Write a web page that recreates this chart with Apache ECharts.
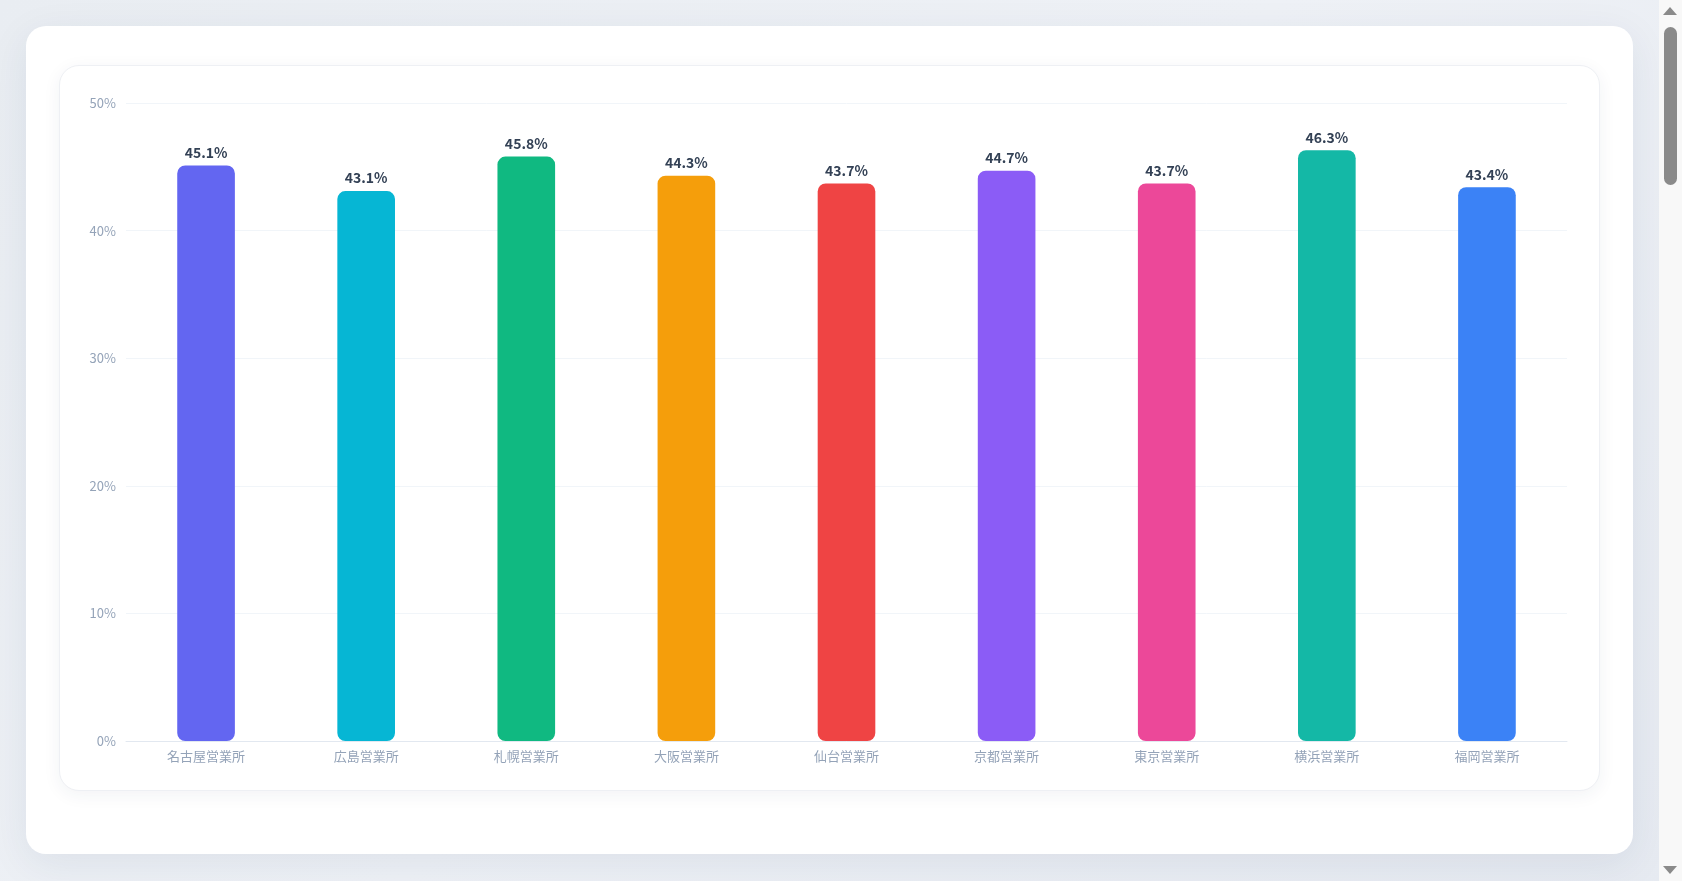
<!DOCTYPE html>
<html>
<head>
<meta charset="utf-8">
<script src="https://cdn.jsdelivr.net/npm/echarts@6/dist/echarts.min.js"></script>
<style>
  html, body { margin: 0; padding: 0; overflow: hidden; }
  body {
    width: 1682px; height: 881px;
    background: linear-gradient(135deg, #e9edf2 0%, #eef1f6 50%, #e6eaf1 100%);
    font-family: 'Noto Sans CJK JP', 'Noto Sans', sans-serif;
    position: relative;
  }
  .outer {
    position: absolute; left: 26px; top: 26px; width: 1607px; height: 828px;
    background: #ffffff; border-radius: 20px;
    box-shadow: 0 10px 40px rgba(30, 50, 90, 0.08);
  }
  .inner {
    position: absolute; left: 59px; top: 65px; width: 1541px; height: 726px;
    background: #ffffff; border-radius: 20px; border: 1px solid #eef0f4;
    box-sizing: border-box;
    box-shadow: 0 4px 18px rgba(30, 50, 90, 0.06);
  }
  #chart { position: absolute; left: -1px; top: -1px; width: 1541px; height: 726px; }
  /* page scrollbar as in the screenshot */
  .sb-track { position: absolute; left: 1659px; top: 0; width: 23px; height: 881px; background: #f8f8f8; }
  .sb-thumb { position: absolute; left: 1664px; top: 27px; width: 13px; height: 158px; background: #8a8a8a; border-radius: 7px; }
  .sb-up { position: absolute; left: 1663px; top: 7px; width: 0; height: 0;
    border-left: 7px solid transparent; border-right: 7px solid transparent; border-bottom: 8px solid #8a8a8a; }
  .sb-down { position: absolute; left: 1663px; top: 866px; width: 0; height: 0;
    border-left: 7px solid transparent; border-right: 7px solid transparent; border-top: 8px solid #8a8a8a; }
</style>
</head>
<body>
<div class="outer"></div>
<div class="inner"><div id="chart"></div></div>
<div class="sb-track"></div>
<div class="sb-up"></div>
<div class="sb-thumb"></div>
<div class="sb-down"></div>
<script>
var offices = ['名古屋営業所', '広島営業所', '札幌営業所', '大阪営業所', '仙台営業所', '京都営業所', '東京営業所', '横浜営業所', '福岡営業所'];
var rates = [45.1, 43.1, 45.8, 44.3, 43.7, 44.7, 43.7, 46.3, 43.4];
var colors = ['#6366f1', '#06b6d4', '#10b981', '#f59e0b', '#ef4444', '#8b5cf6', '#ec4899', '#14b8a6', '#3b82f6'];

var OfficeChart = {
	init : function() {
		var chart = echarts.init(document.getElementById('chart'));
		chart.setOption(OfficeChart.buildOption(), true);
	},
	buildOption : function() {
		var bars = [];
		for (var i = 0; i < rates.length; i++) {
			bars.push({
				value : rates[i],
				itemStyle : { color : colors[i] }
			});
		}
		return {
			animation : false,
			textStyle : { fontFamily : "'Noto Sans CJK JP', 'Noto Sans', sans-serif" },
			grid : { left : 67, right : 33, top : 38, bottom : 50 },
			xAxis : {
				type : 'category',
				data : offices,
				axisLine : { lineStyle : { color : '#e2e8f0' } },
				axisTick : { show : false },
				axisLabel : { color : '#94a3b8', fontSize : 13, margin : 9 }
			},
			yAxis : {
				type : 'value',
				min : 0,
				max : 50,
				interval : 10,
				axisLabel : { color : '#94a3b8', fontSize : 13, margin : 10, formatter : '{value}%' },
				splitLine : { lineStyle : { color : '#f1f5f9' } }
			},
			series : [ {
				type : 'bar',
				barWidth : '36%',
				data : bars,
				itemStyle : { borderRadius : 8 },
				label : {
					show : true,
					position : 'top',
					distance : 6,
					color : '#334155',
					fontSize : 14,
					fontWeight : 'bold',
					formatter : '{c}%'
				}
			} ]
		};
	}
};
OfficeChart.init();
</script>
</body>
</html>
